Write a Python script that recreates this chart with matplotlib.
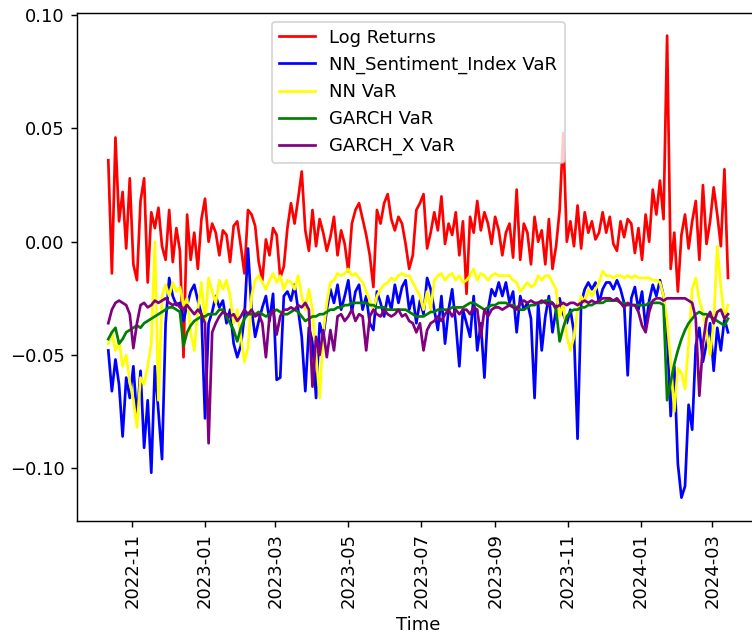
import matplotlib
matplotlib.use("Agg")
import matplotlib.pyplot as plt
import matplotlib.dates as mdates
import pandas as pd

dates = pd.date_range("2022-10-12", periods=174, freq="3D")

log_returns = [
    0.036, -0.014, 0.046, 0.009, 0.022, -0.003, 0.028, -0.010, -0.017, 0.018,
    0.028, -0.018, 0.013, 0.006, 0.015, -0.002, -0.008, 0.014, -0.009, 0.006,
    -0.004, -0.051, 0.012, -0.008, 0.004, -0.012, 0.010, 0.019, 0.000, 0.008,
    0.004, -0.006, 0.005, 0.003, -0.009, 0.007, 0.009, -0.002, -0.014, 0.014,
    0.012, 0.007, -0.009, -0.017, 0.001, -0.006, 0.006, 0.003, -0.016, -0.011,
    0.006, 0.017, 0.008, 0.019, 0.031, 0.005, -0.004, 0.014, -0.002, 0.010,
    0.004, -0.004, 0.002, 0.011, -0.006, 0.005, -0.001, -0.013, 0.008, 0.014,
    0.017, 0.010, 0.003, -0.006, -0.020, 0.014, 0.008, 0.017, 0.021, 0.010,
    0.005, 0.011, 0.008, -0.001, -0.012, -0.006, 0.014, 0.017, 0.021, -0.003,
    0.004, 0.013, 0.005, 0.020, -0.001, 0.008, 0.003, 0.013, -0.006, 0.009,
    -0.023, 0.011, 0.004, 0.018, 0.005, 0.013, 0.008, -0.001, 0.011, 0.005,
    -0.006, 0.004, 0.008, -0.007, 0.023, -0.008, 0.008, 0.004, -0.010, 0.011,
    0.000, 0.005, -0.010, 0.010, -0.012, -0.002, 0.014, 0.048, 0.000, 0.009,
    -0.002, 0.016, -0.003, 0.013, 0.004, 0.009, 0.001, 0.004, 0.013, 0.004,
    0.011, -0.001, -0.004, 0.009, 0.002, 0.010, 0.008, -0.005, 0.006, -0.008,
    0.012, 0.000, 0.023, 0.012, 0.027, 0.010, 0.091, -0.012, 0.004, -0.022,
    0.003, 0.012, -0.003, 0.009, 0.018, -0.008, 0.025, -0.001, 0.009, 0.024,
    0.012, -0.002, 0.032, -0.016,
]

nn_sentiment_var = [
    -0.048, -0.066, -0.052, -0.063, -0.086, -0.060, -0.069, -0.055, -0.078, -0.057,
    -0.091, -0.070, -0.102, -0.055, -0.075, -0.096, -0.036, -0.016, -0.024, -0.028,
    -0.027, -0.035, -0.028, -0.022, -0.019, -0.026, -0.032, -0.078, -0.036, -0.031,
    -0.024, -0.029, -0.026, -0.036, -0.030, -0.045, -0.051, -0.046, -0.033, -0.003,
    -0.030, -0.042, -0.035, -0.029, -0.024, -0.035, -0.023, -0.061, -0.060, -0.024,
    -0.022, -0.026, -0.019, -0.030, -0.042, -0.066, -0.038, -0.044, -0.069, -0.036,
    -0.042, -0.030, -0.021, -0.027, -0.019, -0.030, -0.024, -0.017, -0.031, -0.022,
    -0.019, -0.030, -0.024, -0.036, -0.039, -0.022, -0.027, -0.033, -0.024, -0.030,
    -0.019, -0.027, -0.020, -0.017, -0.030, -0.024, -0.036, -0.026, -0.032, -0.016,
    -0.021, -0.030, -0.039, -0.024, -0.045, -0.030, -0.021, -0.036, -0.055, -0.030,
    -0.036, -0.042, -0.024, -0.048, -0.036, -0.060, -0.030, -0.021, -0.024, -0.018,
    -0.024, -0.018, -0.027, -0.022, -0.040, -0.024, -0.030, -0.027, -0.034, -0.069,
    -0.027, -0.048, -0.033, -0.024, -0.040, -0.030, -0.025, -0.032, -0.036, -0.030,
    -0.040, -0.087, -0.027, -0.021, -0.018, -0.021, -0.018, -0.027, -0.021, -0.018,
    -0.018, -0.021, -0.017, -0.021, -0.027, -0.059, -0.025, -0.020, -0.030, -0.022,
    -0.038, -0.026, -0.019, -0.024, -0.017, -0.024, -0.040, -0.077, -0.055, -0.098,
    -0.113, -0.108, -0.072, -0.083, -0.046, -0.038, -0.053, -0.045, -0.036, -0.057,
    -0.038, -0.048, -0.034, -0.040,
]

nn_var = [
    -0.045, -0.040, -0.048, -0.044, -0.055, -0.050, -0.062, -0.070, -0.082, -0.060,
    -0.063, -0.055, -0.045, 0.000, -0.070, -0.024, -0.019, -0.024, -0.018, -0.022,
    -0.020, -0.028, -0.025, -0.040, -0.048, -0.030, -0.018, -0.036, -0.016, -0.022,
    -0.027, -0.017, -0.021, -0.017, -0.024, -0.036, -0.030, -0.042, -0.053, -0.047,
    -0.024, -0.017, -0.015, -0.018, -0.021, -0.017, -0.014, -0.018, -0.015, -0.021,
    -0.017, -0.018, -0.021, -0.015, -0.024, -0.030, -0.021, -0.030, -0.050, -0.069,
    -0.040, -0.027, -0.018, -0.017, -0.014, -0.015, -0.014, -0.012, -0.015, -0.014,
    -0.016, -0.018, -0.022, -0.026, -0.030, -0.024, -0.021, -0.019, -0.018, -0.016,
    -0.017, -0.015, -0.014, -0.015, -0.015, -0.018, -0.021, -0.024, -0.030, -0.022,
    -0.030, -0.017, -0.015, -0.014, -0.017, -0.015, -0.014, -0.017, -0.015, -0.018,
    -0.017, -0.015, -0.012, -0.017, -0.014, -0.015, -0.017, -0.015, -0.014, -0.015,
    -0.015, -0.015, -0.015, -0.017, -0.018, -0.022, -0.020, -0.018, -0.020, -0.019,
    -0.015, -0.017, -0.015, -0.015, -0.018, -0.021, -0.033, -0.027, -0.042, -0.048,
    -0.042, -0.030, -0.024, -0.027, -0.021, -0.024, -0.021, -0.018, -0.013, -0.015,
    -0.015, -0.016, -0.015, -0.015, -0.016, -0.015, -0.016, -0.015, -0.016, -0.016,
    -0.016, -0.016, -0.017, -0.017, -0.018, -0.024, -0.035, -0.053, -0.075, -0.056,
    -0.058, -0.065, -0.045, -0.021, -0.016, -0.026, -0.031, -0.040, -0.050, -0.036,
    -0.002, -0.020, -0.034, -0.028,
]

garch_var = [
    -0.043, -0.040, -0.038, -0.045, -0.043, -0.040, -0.039, -0.038, -0.037, -0.038,
    -0.036, -0.035, -0.034, -0.033, -0.032, -0.031, -0.030, -0.029, -0.029, -0.030,
    -0.031, -0.046, -0.040, -0.037, -0.035, -0.034, -0.033, -0.033, -0.032, -0.032,
    -0.032, -0.030, -0.030, -0.033, -0.036, -0.039, -0.044, -0.038, -0.034, -0.032,
    -0.032, -0.032, -0.031, -0.032, -0.033, -0.032, -0.031, -0.030, -0.031, -0.032,
    -0.032, -0.031, -0.030, -0.031, -0.033, -0.035, -0.034, -0.033, -0.033, -0.032,
    -0.032, -0.031, -0.030, -0.030, -0.029, -0.029, -0.028, -0.028, -0.027, -0.027,
    -0.027, -0.027, -0.027, -0.028, -0.028, -0.029, -0.029, -0.029, -0.030, -0.030,
    -0.030, -0.030, -0.030, -0.030, -0.031, -0.032, -0.033, -0.033, -0.033, -0.032,
    -0.031, -0.031, -0.030, -0.030, -0.030, -0.030, -0.029, -0.029, -0.029, -0.029,
    -0.028, -0.027, -0.027, -0.028, -0.029, -0.030, -0.029, -0.028, -0.028, -0.027,
    -0.027, -0.027, -0.028, -0.028, -0.029, -0.030, -0.030, -0.029, -0.028, -0.028,
    -0.027, -0.027, -0.026, -0.026, -0.027, -0.030, -0.044, -0.038, -0.033, -0.031,
    -0.030, -0.030, -0.029, -0.029, -0.028, -0.028, -0.027, -0.027, -0.027, -0.026,
    -0.026, -0.026, -0.026, -0.027, -0.027, -0.028, -0.028, -0.028, -0.028, -0.028,
    -0.028, -0.027, -0.027, -0.027, -0.027, -0.028, -0.070, -0.062, -0.054, -0.048,
    -0.043, -0.039, -0.036, -0.034, -0.032, -0.031, -0.032, -0.032, -0.033, -0.034,
    -0.035, -0.036, -0.037, -0.034,
]

garch_x_var = [
    -0.036, -0.030, -0.027, -0.026, -0.027, -0.028, -0.032, -0.047, -0.036, -0.028,
    -0.027, -0.029, -0.028, -0.026, -0.027, -0.026, -0.025, -0.027, -0.028, -0.027,
    -0.029, -0.030, -0.028, -0.030, -0.032, -0.030, -0.032, -0.036, -0.089, -0.040,
    -0.036, -0.033, -0.031, -0.032, -0.033, -0.032, -0.035, -0.033, -0.030, -0.032,
    -0.030, -0.033, -0.032, -0.036, -0.051, -0.033, -0.030, -0.041, -0.033, -0.030,
    -0.030, -0.029, -0.030, -0.028, -0.029, -0.027, -0.030, -0.064, -0.042, -0.050,
    -0.039, -0.051, -0.039, -0.048, -0.033, -0.032, -0.035, -0.033, -0.030, -0.035,
    -0.032, -0.033, -0.048, -0.033, -0.030, -0.032, -0.033, -0.030, -0.032, -0.033,
    -0.032, -0.030, -0.033, -0.032, -0.035, -0.036, -0.040, -0.036, -0.048, -0.039,
    -0.036, -0.035, -0.033, -0.035, -0.032, -0.030, -0.033, -0.030, -0.032, -0.030,
    -0.030, -0.032, -0.029, -0.030, -0.042, -0.030, -0.033, -0.030, -0.029, -0.029,
    -0.030, -0.029, -0.028, -0.029, -0.030, -0.027, -0.026, -0.027, -0.026, -0.027,
    -0.027, -0.026, -0.027, -0.028, -0.027, -0.029, -0.028, -0.027, -0.028, -0.027,
    -0.027, -0.028, -0.027, -0.026, -0.027, -0.026, -0.027, -0.026, -0.025, -0.025,
    -0.025, -0.026, -0.025, -0.027, -0.029, -0.027, -0.028, -0.028, -0.031, -0.037,
    -0.040, -0.031, -0.026, -0.025, -0.025, -0.026, -0.025, -0.025, -0.025, -0.025,
    -0.025, -0.025, -0.026, -0.027, -0.034, -0.068, -0.045, -0.034, -0.031, -0.036,
    -0.031, -0.030, -0.034, -0.032,
]

series = [
    ("Log Returns", log_returns, "red"),
    ("NN_Sentiment_Index VaR", nn_sentiment_var, "blue"),
    ("NN VaR", nn_var, "yellow"),
    ("GARCH VaR", garch_var, "green"),
    ("GARCH_X VaR", garch_x_var, "purple"),
]

DPI = 130
fig = plt.figure(figsize=(752 / DPI, 639 / DPI), dpi=DPI)
ax = fig.add_axes([0.1028, 0.1851, 0.9065, 0.7953])

for label, vals, color in series:
    ax.plot(dates, vals, color=color, label=label, linewidth=1.5)

ax.xaxis.set_major_locator(mdates.MonthLocator(bymonth=[1, 3, 5, 7, 9, 11]))
ax.xaxis.set_major_formatter(mdates.DateFormatter("%Y-%m"))
for lbl in ax.get_xticklabels():
    lbl.set_rotation(90)
ax.set_yticks([-0.10, -0.05, 0.00, 0.05, 0.10])
ax.set_xlabel("Time")
ax.legend(loc="upper center")

fig.savefig("out.png", dpi=DPI)
